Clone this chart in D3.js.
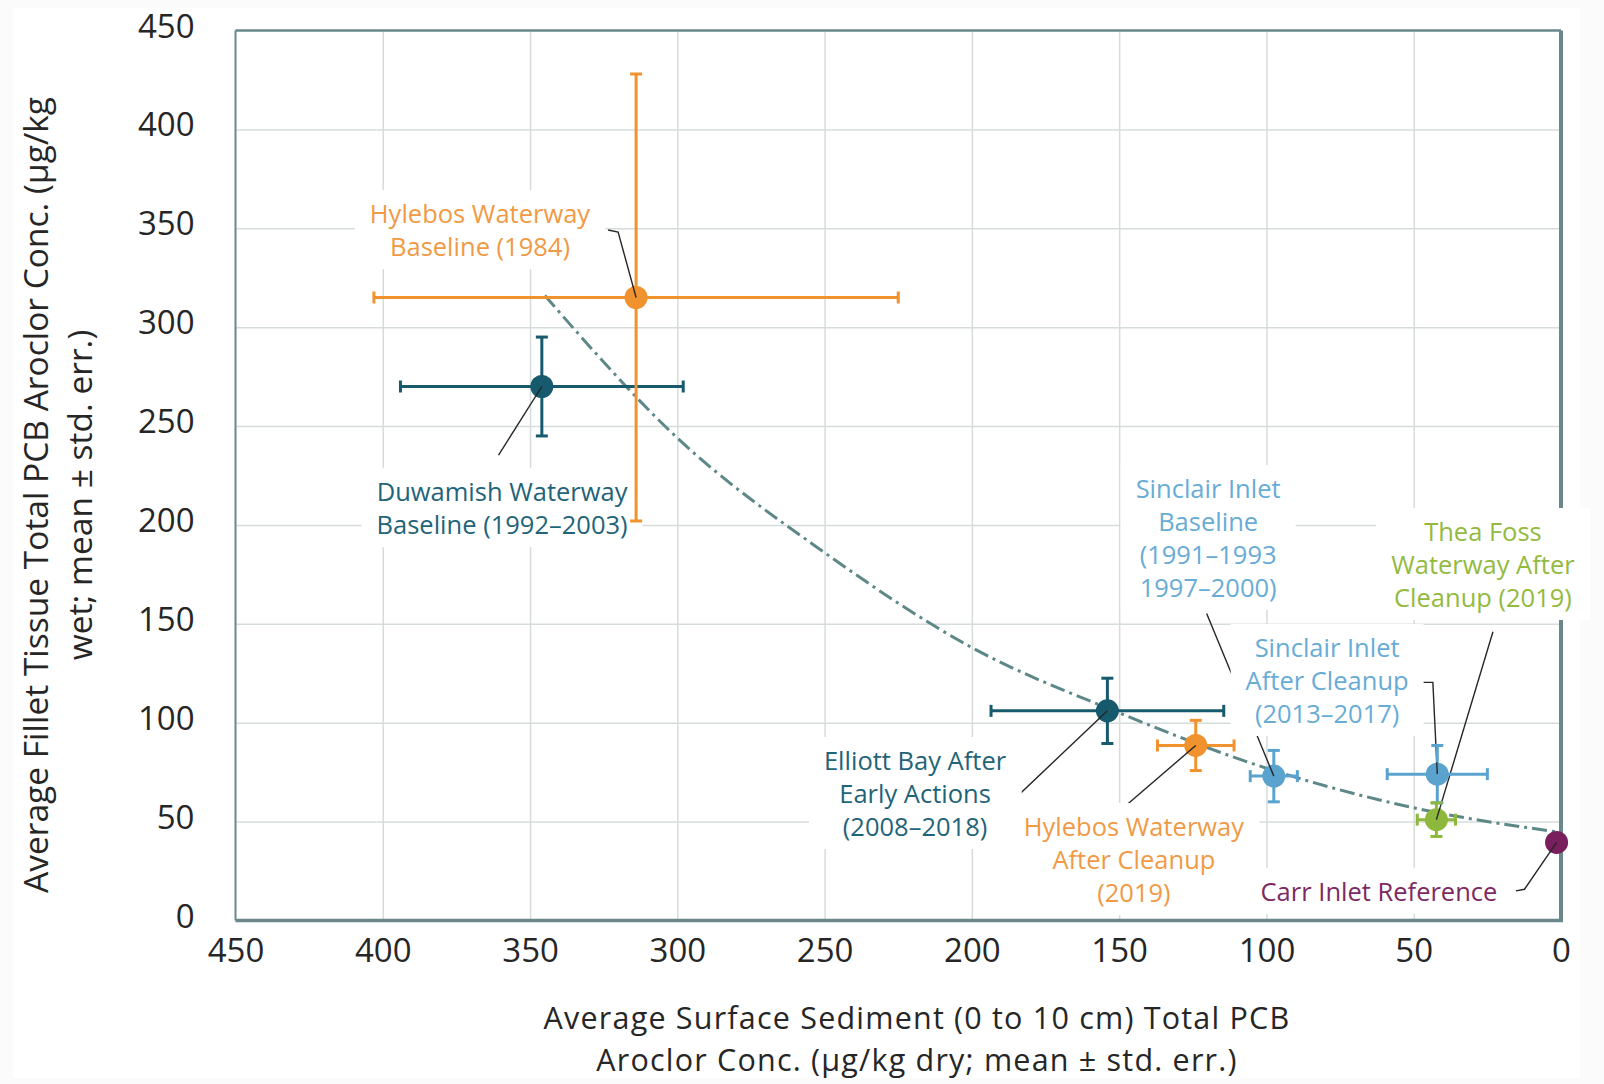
<!DOCTYPE html>
<html>
<head>
<meta charset="utf-8">
<script src="https://cdnjs.cloudflare.com/ajax/libs/d3/7.8.5/d3.min.js"></script>
<style>
  body { margin: 0; background: #fbfbfb; }
  svg { display: block; font-family: "Open Sans", "Noto Sans", sans-serif; }
</style>
</head>
<body>
<div id="chart"></div>
<script>

// values
var sites = ["Duwamish Waterway Baseline", "Hylebos Waterway Baseline", "Elliott Bay After Early Actions",
             "Hylebos Waterway After Cleanup", "Sinclair Inlet Baseline", "Sinclair Inlet After Cleanup",
             "Thea Foss Waterway After Cleanup", "Carr Inlet Reference"];
var sedMean = [346, 314, 154, 124, 97.5, 42, 42.3, 1.5];
var sedErr  = [48, 89, 39.5, 13, 8, 17, 6.5, 0];
var tisMean = [270, 315, 106, 88.5, 73, 74, 51, 39.5];
var tisErr  = [25, 113, 16.5, 12.7, 13, 14.5, 8.5, 0];
var siteColors = ["#17596d", "#f0922d", "#17596d", "#f0922d", "#5ba3cf", "#5ba3cf", "#8db83b", "#7a1f5e"];

// dash-dot trend line, read at a few sediment values
var trendSed = [345, 300, 250, 200, 150, 100, 50, 0];
var trendTis = [316, 244, 186, 138, 105, 77, 57, 44.5];

var xTicks = [450, 400, 350, 300, 250, 200, 150, 100, 50, 0];
var yTicks = [0, 50, 100, 150, 200, 250, 300, 350, 400, 450];

var labelLines = [
  ["Duwamish Waterway", "Baseline (1992–2003)"],
  ["Hylebos Waterway", "Baseline (1984)"],
  ["Elliott Bay After", "Early Actions", "(2008–2018)"],
  ["Hylebos Waterway", "After Cleanup", "(2019)"],
  ["Sinclair Inlet", "Baseline", "(1991–1993", "1997–2000)"],
  ["Sinclair Inlet", "After Cleanup", "(2013–2017)"],
  ["Thea Foss", "Waterway After", "Cleanup (2019)"],
  ["Carr Inlet Reference"]
];
var labelColors = ["#1f6478", "#f09a45", "#1f6478", "#f09a45", "#68acd6", "#68acd6", "#93ba3f", "#7d2a62"];

// callout placement (in axis units): text centre / first baseline, and leader bend points
var labelAt = [[359.5, 212], [367, 352.6], [219.3, 76.1], [145, 42.7], [119.8, 213.6], [79.4, 133.2], [26.5, 191.9], [61.8, 9.9]];
var leaderFrom = [
  [[360.7, 235.3]],
  [[323.5, 349.1], [320.1, 348.1]],
  [[187.2, 63.2], [183.7, 64.1]],
  [[147.1, 58.9]],
  [[120.3, 155.2]],
  [[48.9, 120.4], [43.5, 120.4]],
  [[23.1, 146.0]],
  [[15.3, 15.0], [12.4, 15.8]]
];

var margin = {top: 30.5, right: 43, bottom: 163.5, left: 235.5},
    width = 1604 - margin.left - margin.right,
    height = 1084 - margin.top - margin.bottom;

var frameColor = "#6a888b";

var root = d3.select("#chart").append("svg")
    .attr("width", 1604)
    .attr("height", 1084);

root.append("rect")
    .attr("x", 13).attr("y", 8)
    .attr("width", 1567).attr("height", 1070)
    .attr("fill", "#ffffff");

var svg = root.append("g")
    .attr("transform", "translate(" + margin.left + "," + margin.top + ")");

var x = d3.scaleLinear().domain([450, 0]).range([0, width]);
var y = d3.scaleLinear().domain([0, 450]).range([height, 0]);

// gridlines
svg.append("g")
    .attr("class", "grid")
    .attr("transform", "translate(0," + height + ")")
    .call(d3.axisBottom(x).tickValues(xTicks.slice(1, -1)).tickSize(-height).tickFormat(""));
svg.append("g")
    .attr("class", "grid")
    .call(d3.axisLeft(y).tickValues(yTicks.slice(1, -1)).tickSize(-width).tickFormat(""));
svg.selectAll(".grid .domain").remove();
svg.selectAll(".grid line").attr("stroke", "#d6dcdc").attr("stroke-width", 1.5);

// right border sits under the callout boxes
svg.append("line")
    .attr("x1", width).attr("x2", width)
    .attr("y1", 0).attr("y2", height)
    .attr("stroke", frameColor).attr("stroke-width", 4);

// trend line
var trend = d3.line()
    .x(function(d) { return x(d[0]); })
    .y(function(d) { return y(d[1]); })
    .curve(d3.curveMonotoneX);

svg.append("path")
    .datum(d3.zip(trendSed, trendTis))
    .attr("d", trend)
    .attr("fill", "none")
    .attr("stroke", "#5e8888")
    .attr("stroke-width", 3)
    .attr("stroke-dasharray", "15,5,3,5");

// leader lines
var leader = d3.line()
    .x(function(d) { return x(d[0]); })
    .y(function(d) { return y(d[1]); });

svg.selectAll(".leader")
    .data(sites)
  .enter().append("path")
    .attr("class", "leader")
    .attr("d", function(d, i) { return leader(leaderFrom[i].concat([[sedMean[i], tisMean[i]]])); })
    .attr("fill", "none")
    .attr("stroke", "#262626")
    .attr("stroke-width", 1.4);

// callout boxes go here, under the bars
var boxLayer = svg.append("g");

// error bars
var cap = 6;
var bars = svg.selectAll(".bars")
    .data(sites)
  .enter().append("g")
    .attr("class", "bars")
    .attr("stroke", function(d, i) { return siteColors[i]; })
    .attr("stroke-width", 3)
    .filter(function(d, i) { return sedErr[i] > 0; });

bars.append("line")
    .attr("x1", function(d, i) { return x(sedMean[i] + sedErr[i]); })
    .attr("x2", function(d, i) { return x(sedMean[i] - sedErr[i]); })
    .attr("y1", function(d, i) { return y(tisMean[i]); })
    .attr("y2", function(d, i) { return y(tisMean[i]); });
bars.append("line")
    .attr("x1", function(d, i) { return x(sedMean[i]); })
    .attr("x2", function(d, i) { return x(sedMean[i]); })
    .attr("y1", function(d, i) { return y(tisMean[i] + tisErr[i]); })
    .attr("y2", function(d, i) { return y(tisMean[i] - tisErr[i]); });
[-1, 1].forEach(function(s) {
  bars.append("line")
      .attr("x1", function(d, i) { return x(sedMean[i] + s * sedErr[i]); })
      .attr("x2", function(d, i) { return x(sedMean[i] + s * sedErr[i]); })
      .attr("y1", function(d, i) { return y(tisMean[i]) - cap; })
      .attr("y2", function(d, i) { return y(tisMean[i]) + cap; });
  bars.append("line")
      .attr("x1", function(d, i) { return x(sedMean[i]) - cap; })
      .attr("x2", function(d, i) { return x(sedMean[i]) + cap; })
      .attr("y1", function(d, i) { return y(tisMean[i] + s * tisErr[i]); })
      .attr("y2", function(d, i) { return y(tisMean[i] + s * tisErr[i]); });
});

// points
svg.selectAll(".dot")
    .data(sites)
  .enter().append("circle")
    .attr("class", "dot")
    .attr("r", 11.5)
    .attr("cx", function(d, i) { return x(sedMean[i]); })
    .attr("cy", function(d, i) { return y(tisMean[i]); })
    .style("fill", function(d, i) { return siteColors[i]; });

// last bit of each leader shows on top of the dot
svg.selectAll(".leaderTop")
    .data(sites)
  .enter().append("path")
    .attr("d", function(d, i) {
      var p = leaderFrom[i][leaderFrom[i].length - 1];
      return leader([p, [sedMean[i], tisMean[i]]]);
    })
    .attr("fill", "none")
    .attr("stroke", "#262626")
    .attr("stroke-width", 1.4)
    .attr("stroke-dasharray", function(d, i) {
      var p = leaderFrom[i][leaderFrom[i].length - 1];
      var dx = x(p[0]) - x(sedMean[i]), dy = y(p[1]) - y(tisMean[i]);
      var len = Math.sqrt(dx * dx + dy * dy);
      return "0," + (len - 12) + ",12";
    });

var labels = svg.selectAll(".callout")
    .data(sites)
  .enter().append("text")
    .attr("class", "callout")
    .attr("x", function(d, i) { return x(labelAt[i][0]); })
    .attr("y", function(d, i) { return y(labelAt[i][1]); })
    .attr("text-anchor", "middle")
    .style("font-size", "25.5px")
    .style("fill", function(d, i) { return labelColors[i]; });

labels.each(function(d, i) {
  var t = d3.select(this);
  labelLines[i].forEach(function(line, j) {
    t.append("tspan")
        .attr("x", x(labelAt[i][0]))
        .attr("dy", j === 0 ? 0 : 33)
        .text(line);
  });
  var b = this.getBBox();
  boxLayer.append("rect")
      .attr("x", b.x - 15).attr("y", b.y - 6)
      .attr("width", b.width + 30).attr("height", b.height + 12)
      .attr("fill", "#ffffff");
});

// rest of the frame
svg.append("line")
    .attr("x1", 0).attr("x2", width + 2)
    .attr("y1", height).attr("y2", height)
    .attr("stroke", frameColor).attr("stroke-width", 3.5);
svg.append("line")
    .attr("x1", 0).attr("x2", 0)
    .attr("y1", 0).attr("y2", height)
    .attr("stroke", frameColor).attr("stroke-width", 2);
svg.append("line")
    .attr("x1", 0).attr("x2", width)
    .attr("y1", 0).attr("y2", 0)
    .attr("stroke", frameColor).attr("stroke-width", 2.5);

// tick labels
var xAxis = svg.append("g")
    .attr("transform", "translate(0," + height + ")")
    .call(d3.axisBottom(x).tickValues(xTicks).tickSize(0).tickPadding(18));
var yAxis = svg.append("g")
    .call(d3.axisLeft(y).tickValues(yTicks).tickSize(0).tickPadding(41));
[xAxis, yAxis].forEach(function(a) {
  a.select(".domain").remove();
  a.selectAll("text")
      .style("font-family", "'Open Sans', sans-serif")
      .style("font-size", "33px")
      .style("fill", "#262626");
});
yAxis.selectAll("text").attr("dy", "0.2em");

// axis titles
var xTitle = root.append("text")
    .attr("text-anchor", "middle")
    .style("font-size", "30.5px")
    .style("letter-spacing", "1.2px")
    .style("fill", "#262626");
xTitle.append("tspan").attr("x", 917).attr("y", 1029).text("Average Surface Sediment (0 to 10 cm) Total PCB");
xTitle.append("tspan").attr("x", 917).attr("y", 1071).text("Aroclor Conc. (µg/kg dry; mean ± std. err.)");

var yTitle = root.append("text")
    .attr("text-anchor", "middle")
    .attr("transform", "translate(0,495) rotate(-90)")
    .style("font-size", "33.5px")
    .style("fill", "#262626");
yTitle.append("tspan").attr("x", 0).attr("y", 48).text("Average Fillet Tissue Total PCB Aroclor Conc. (µg/kg");
yTitle.append("tspan").attr("x", 0).attr("y", 92).text("wet; mean ± std. err.)");

</script>
</body>
</html>
